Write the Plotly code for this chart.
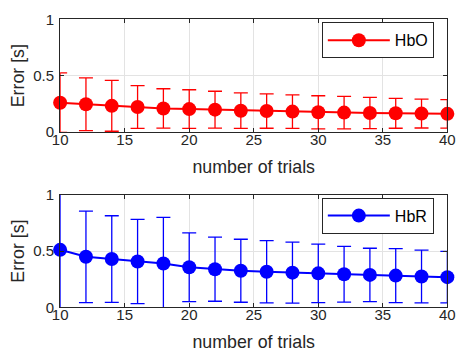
import plotly.graph_objects as go

trials = [10, 12, 14, 16, 18, 20, 22, 24, 26, 28, 30, 32, 34, 36, 38, 40]
hbo_mean = [0.26, 0.246, 0.232, 0.222, 0.209, 0.203, 0.198, 0.189, 0.186, 0.181, 0.175, 0.172, 0.169, 0.166, 0.163, 0.161]
hbo_err = [0.265, 0.234, 0.226, 0.19, 0.175, 0.172, 0.164, 0.158, 0.153, 0.149, 0.147, 0.144, 0.139, 0.133, 0.128, 0.127]
hbr_mean = [0.511, 0.449, 0.429, 0.407, 0.39, 0.356, 0.339, 0.325, 0.316, 0.308, 0.302, 0.294, 0.288, 0.282, 0.274, 0.268]
hbr_err = [0.56, 0.407, 0.385, 0.375, 0.41, 0.305, 0.285, 0.28, 0.277, 0.271, 0.26, 0.248, 0.237, 0.24, 0.234, 0.229]

FONT = "Liberation Sans, Arial, sans-serif"
W, H = 465, 362

fig = go.Figure()

def add(y, err, color, name, xa, ya, legend):
    fig.add_trace(go.Scatter(
        x=trials, y=y, name=name, mode="lines+markers",
        xaxis=xa, yaxis=ya, legend=legend, showlegend=True,
        line=dict(color=color, width=2),
        marker=dict(color=color, size=14, line=dict(width=0)),
        error_y=dict(type="data", array=err, visible=True,
                     color=color, thickness=1.3, width=7),
        cliponaxis=False,
    ))

add(hbo_mean, hbo_err, "#ff0000", "HbO", "x", "y", "legend")
add(hbr_mean, hbr_err, "#0000ff", "HbR", "x2", "y2", "legend2")

xd = [54 / W, 455 / W]
yd_top = [1 - 129 / H, 1 - 11 / H]
yd_bot = [1 - 313 / H, 1 - 195 / H]

axcommon = dict(
    showline=True, linecolor="#262626", linewidth=1, mirror="ticks",
    ticks="inside", ticklen=4, tickcolor="#262626",
    showgrid=True, gridcolor="#e3e3e3", gridwidth=1, zeroline=False,
    tickfont=dict(family=FONT, size=15, color="#262626"),
)
xcommon = dict(axcommon, range=[10, 40], tickvals=[10, 15, 20, 25, 30, 35, 40],
               ticklabelstandoff=-6,
               title=dict(text="number of trials", font=dict(family=FONT, size=17.8, color="#262626"), standoff=13))
ycommon = dict(axcommon, range=[0, 1], tickvals=[0, 0.5, 1], ticktext=["0", "0.5", "1"],
               ticklabelstandoff=2,
               title=dict(text="Error [s]", font=dict(family=FONT, size=17.8, color="#262626"), standoff=4))

legcommon = dict(
    bgcolor="white", bordercolor="#262626", borderwidth=1,
    font=dict(family=FONT, size=16, color="#000000"),
    xanchor="right", yanchor="top", itemwidth=62,
)

fig.update_layout(
    width=W, height=H, showlegend=True,
    margin=dict(l=0, r=0, t=0, b=0),
    paper_bgcolor="white", plot_bgcolor="white",
    xaxis=dict(xcommon, domain=xd, anchor="y"),
    yaxis=dict(ycommon, domain=yd_top, anchor="x"),
    xaxis2=dict(xcommon, domain=xd, anchor="y2"),
    yaxis2=dict(ycommon, domain=yd_bot, anchor="x2"),
    legend=dict(legcommon, x=441 / W, y=1 - 14 / H),
    legend2=dict(legcommon, x=441 / W, y=1 - 198 / H),
)

fig.write_html("out.html")
